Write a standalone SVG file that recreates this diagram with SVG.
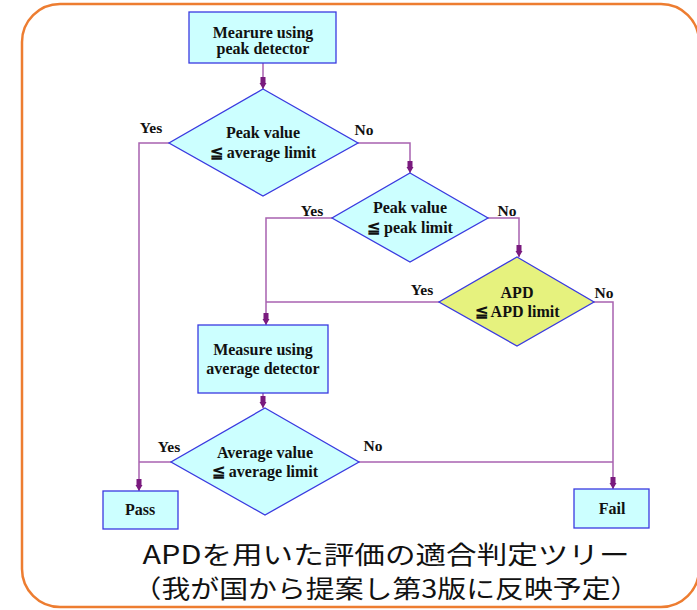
<svg xmlns="http://www.w3.org/2000/svg" width="697" height="610" viewBox="0 0 697 610">
<style>
.box{fill:#ccffff;stroke:#3a3ae0;stroke-width:1.3}
.apd{fill:#e6f27e;stroke:#3a3ae0;stroke-width:1.3}
.t{font-family:"Liberation Serif","Times New Roman",serif;font-weight:bold;font-size:16px;fill:#111;text-anchor:middle}
.lbl{font-family:"Liberation Serif","Times New Roman",serif;font-weight:bold;font-size:15.5px;fill:#111;text-anchor:middle}
.c{fill:none;stroke:#a862b0;stroke-width:1.5}
.jp{font-family:"Noto Sans CJK JP","Noto Sans CJK SC",sans-serif;font-size:25px;fill:#111;text-anchor:middle}
</style>
<defs>
<marker id="arr" viewBox="0 -4 12 8" refX="12" refY="0" markerWidth="12" markerHeight="8" markerUnits="userSpaceOnUse" orient="auto">
<path d="M0,-2.5 L6,-2.5 L6,-3.5 L12,0 L6,3.5 L6,2.5 L0,2.5 Z" fill="#7a1a7e"/>
</marker>
</defs>
<rect x="22" y="4" width="677" height="603" rx="38" ry="38" fill="#ffffff" stroke="#ed7d31" stroke-width="2.5"/>
<g id="connectors">
<path class="c" d="M263,63 V89" marker-end="url(#arr)"/>
<path class="c" d="M169,143 H139 V491" marker-end="url(#arr)"/>
<path class="c" d="M358,143 H410 V173" marker-end="url(#arr)"/>
<path class="c" d="M332,218 H266 V325" marker-end="url(#arr)"/>
<path class="c" d="M488,218 H519 V257" marker-end="url(#arr)"/>
<path class="c" d="M439,302 H266"/>
<path class="c" d="M594,302 H613 V489" marker-end="url(#arr)"/>
<path class="c" d="M263,393 V408" marker-end="url(#arr)"/>
<path class="c" d="M171,462 H139"/>
<path class="c" d="M359,462 H613"/>
</g>
<g id="box1">
<rect class="box" x="189" y="12" width="147" height="51"/>
<text class="t" x="263" y="38">Mearure using</text>
<text class="t" x="263" y="54">peak detector</text>
</g>
<g id="d1">
<polygon class="box" points="263,89 358,143 263,196 169,143"/>
<text class="t" x="263" y="138">Peak value</text>
<text class="t" x="263" y="158">≦ average limit</text>
</g>
<g id="d2">
<polygon class="box" points="410,173 488,218 410,262 332,218"/>
<text class="t" x="410" y="213">Peak value</text>
<text class="t" x="410" y="233">≦ peak limit</text>
</g>
<g id="apd">
<polygon class="apd" points="517,257 594,302 517,346 439,302"/>
<text class="t" x="517" y="298">APD</text>
<text class="t" x="517" y="317">≦ APD limit</text>
</g>
<g id="box2">
<rect class="box" x="198" y="325" width="130" height="68"/>
<text class="t" x="263" y="355">Measure using</text>
<text class="t" x="263" y="374">average detector</text>
</g>
<g id="d3">
<polygon class="box" points="265,408 359,462 265,515 171,462"/>
<text class="t" x="265" y="458">Average value</text>
<text class="t" x="265" y="477">≦ average limit</text>
</g>
<g id="pass">
<rect class="box" x="103" y="491" width="75" height="38"/>
<text class="t" x="140" y="515">Pass</text>
</g>
<g id="fail">
<rect class="box" x="574" y="489" width="75" height="39"/>
<text class="t" x="612" y="514">Fail</text>
</g>
<g id="labels">
<text class="lbl" x="151" y="133">Yes</text>
<text class="lbl" x="364" y="135">No</text>
<text class="lbl" x="312" y="216">Yes</text>
<text class="lbl" x="507" y="216">No</text>
<text class="lbl" x="422" y="295">Yes</text>
<text class="lbl" x="604" y="298">No</text>
<text class="lbl" x="169" y="452">Yes</text>
<text class="lbl" x="373" y="451">No</text>
</g>
<g id="caption">
<text class="jp" x="386" y="564" textLength="487" lengthAdjust="spacingAndGlyphs">APDを用いた評価の適合判定ツリー</text>
<text class="jp" x="386" y="598" textLength="507" lengthAdjust="spacingAndGlyphs">（我が国から提案し第3版に反映予定）</text>
</g>
</svg>
